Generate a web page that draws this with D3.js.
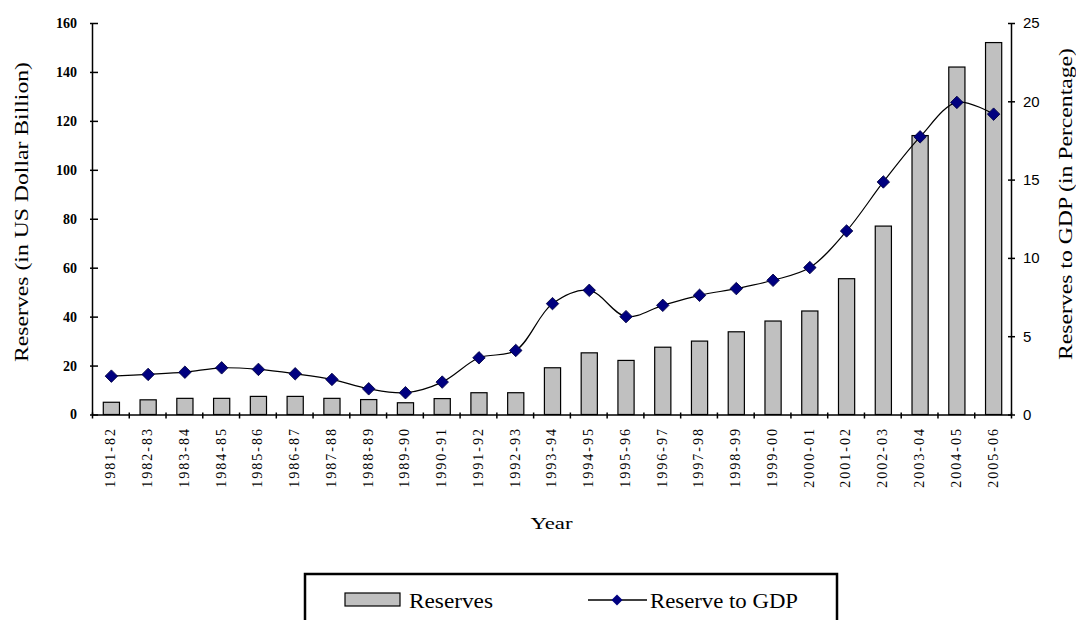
<!DOCTYPE html>
<html>
<head>
<meta charset="utf-8">
<script src="https://cdn.jsdelivr.net/npm/d3@7"></script>
<style>
  body { margin: 0; background: #fff; }
  text { font-family: "Liberation Serif", "Times New Roman", serif; fill: #000; }
</style>
</head>
<body>
<script>
let years = ['1981-82', '1982-83', '1983-84', '1984-85', '1985-86', '1986-87', '1987-88',
    '1988-89', '1989-90', '1990-91', '1991-92', '1992-93', '1993-94', '1994-95', '1995-96',
    '1996-97', '1997-98', '1998-99', '1999-00', '2000-01', '2001-02', '2002-03', '2003-04',
    '2004-05', '2005-06'];

// reserves, US$ billion (left axis)
let reserves = [5.0, 6.0, 6.6, 6.6, 7.4, 7.4, 6.6, 6.1, 4.8, 6.5, 8.9, 8.9, 19.1, 25.2,
    22.1, 27.5, 30.0, 33.8, 38.2, 42.3, 55.5, 77.0, 114.0, 142.0, 152.0];

// reserves to GDP, percent (right axis)
let gdpRatio = [2.45, 2.56, 2.7, 2.98, 2.88, 2.6, 2.24, 1.64, 1.39, 2.07, 3.62, 4.09, 7.08,
    7.93, 6.25, 6.97, 7.61, 8.04, 8.57, 9.38, 11.72, 14.85, 17.73, 19.93, 19.18];

let leftTicks = [0, 20, 40, 60, 80, 100, 120, 140, 160];
let rightTicks = [0, 5, 10, 15, 20, 25];

let width = 1076;
let height = 620;
let plotLeft = 92, plotRight = 1011, plotTop = 23, plotBottom = 414.5;

let svg = d3.select('body')
    .append('svg')
    .attr('width', width)
    .attr('height', height);

let x = d3.scaleBand()
    .domain(years)
    .range([plotLeft, plotRight])
    .padding(0);

let xEdge = d3.scaleLinear()
    .domain([0, years.length])
    .range([plotLeft, plotRight]);

let yLeft = d3.scaleLinear()
    .domain([0, 160])
    .range([plotBottom, plotTop]);

let yRight = d3.scaleLinear()
    .domain([0, 25])
    .range([plotBottom, plotTop]);

let barW = x.bandwidth() * 0.44;

// bars
svg.selectAll('rect.bar')
    .data(reserves)
    .enter()
        .append('rect')
        .attr('class', 'bar')
        .attr('x', (d, i) => x(years[i]) + x.bandwidth() / 2 - barW / 2 + 1)
        .attr('y', d => yLeft(d))
        .attr('width', barW)
        .attr('height', d => plotBottom - yLeft(d))
        .attr('fill', '#c0c0c0')
        .attr('stroke', '#000')
        .attr('stroke-width', 1.2);

// left axis
let axisL = svg.append('g')
    .attr('transform', `translate(${plotLeft},0)`)
    .call(d3.axisLeft(yLeft).tickValues(leftTicks).tickSize(0).tickPadding(15));
axisL.select('.domain').attr('stroke', '#000').attr('stroke-width', 1.5);
axisL.selectAll('.tick line').attr('x1', -2).attr('x2', 6).attr('stroke', '#000').attr('stroke-width', 1.5);
axisL.selectAll('.tick text')
    .style('font-family', '"Liberation Serif", serif')
    .style('font-size', '14px')
    .style('font-weight', 'bold');

// right axis
let axisR = svg.append('g')
    .attr('transform', `translate(${plotRight},0)`)
    .call(d3.axisRight(yRight).tickValues(rightTicks).tickSize(0).tickPadding(12));
axisR.select('.domain').attr('stroke', '#000').attr('stroke-width', 1.5);
axisR.selectAll('.tick line').attr('x1', -3).attr('x2', 4).attr('stroke', '#000').attr('stroke-width', 1.5);
axisR.selectAll('.tick text')
    .style('font-family', '"Liberation Sans", sans-serif')
    .style('font-size', '15px');

// bottom axis (ticks at band edges)
let axisB = svg.append('g')
    .attr('transform', `translate(0,${plotBottom})`)
    .call(d3.axisBottom(xEdge).ticks(years.length).tickFormat('').tickSize(0));
axisB.select('.domain').attr('stroke', '#000').attr('stroke-width', 1.5);
axisB.selectAll('.tick line').attr('y1', -2).attr('y2', 4).attr('stroke', '#000').attr('stroke-width', 1.5);

// category labels
svg.selectAll('text.cat')
    .data(years)
    .enter()
        .append('text')
        .attr('class', 'cat')
        .attr('transform', d => `translate(${x(d) + x.bandwidth() / 2},427) rotate(-90)`)
        .attr('text-anchor', 'end')
        .attr('dy', '0.35em')
        .style('font-size', '14px')
        .style('letter-spacing', '2px')
        .text(d => d);

// line
let line = d3.line()
    .x((d, i) => x(years[i]) + x.bandwidth() / 2 + 1)
    .y(d => yRight(d))
    .curve(d3.curveCatmullRom.alpha(0.5));

svg.append('path')
    .datum(gdpRatio)
    .attr('d', line)
    .attr('fill', 'none')
    .attr('stroke', '#000')
    .attr('stroke-width', 1.2);

svg.selectAll('path.marker')
    .data(gdpRatio)
    .enter()
        .append('path')
        .attr('class', 'marker')
        .attr('d', d3.symbol().type(d3.symbolSquare).size(78))
        .attr('transform', (d, i) => `translate(${x(years[i]) + x.bandwidth() / 2 + 1},${yRight(d)}) rotate(45)`)
        .attr('fill', '#000080')
        .attr('stroke', '#000040')
        .attr('stroke-width', 0.8);

// axis titles
svg.append('text')
    .attr('transform', 'translate(28,212) rotate(-90)')
    .attr('text-anchor', 'middle')
    .attr('textLength', 300)
    .attr('lengthAdjust', 'spacingAndGlyphs')
    .style('font-size', '18px')
    .text('Reserves (in US Dollar Billion)');

svg.append('text')
    .attr('transform', 'translate(1072,204) rotate(-90)')
    .attr('text-anchor', 'middle')
    .attr('textLength', 312)
    .attr('lengthAdjust', 'spacingAndGlyphs')
    .style('font-size', '18px')
    .text('Reserves to GDP (in Percentage)');

svg.append('text')
    .attr('x', (plotLeft + plotRight) / 2)
    .attr('y', 529)
    .attr('text-anchor', 'middle')
    .attr('textLength', 42)
    .attr('lengthAdjust', 'spacingAndGlyphs')
    .style('font-size', '17px')
    .text('Year');

// legend
let legend = svg.append('g');
legend.append('rect')
    .attr('x', 305).attr('y', 574)
    .attr('width', 532).attr('height', 70)
    .attr('fill', '#fff')
    .attr('stroke', '#000')
    .attr('stroke-width', 2.5);
legend.append('rect')
    .attr('x', 345).attr('y', 593)
    .attr('width', 55).attr('height', 13)
    .attr('fill', '#c0c0c0')
    .attr('stroke', '#000')
    .attr('stroke-width', 1.2);
legend.append('text')
    .attr('x', 409).attr('y', 608)
    .attr('textLength', 84)
    .attr('lengthAdjust', 'spacingAndGlyphs')
    .style('font-size', '21px')
    .text('Reserves');
legend.append('line')
    .attr('x1', 588).attr('x2', 647)
    .attr('y1', 600).attr('y2', 600)
    .attr('stroke', '#000')
    .attr('stroke-width', 1.5);
legend.append('path')
    .attr('d', d3.symbol().type(d3.symbolSquare).size(60))
    .attr('transform', 'translate(617,600) rotate(45)')
    .attr('fill', '#000080');
legend.append('text')
    .attr('x', 650).attr('y', 608)
    .attr('textLength', 148)
    .attr('lengthAdjust', 'spacingAndGlyphs')
    .style('font-size', '21px')
    .text('Reserve to GDP');
</script>
</body>
</html>
